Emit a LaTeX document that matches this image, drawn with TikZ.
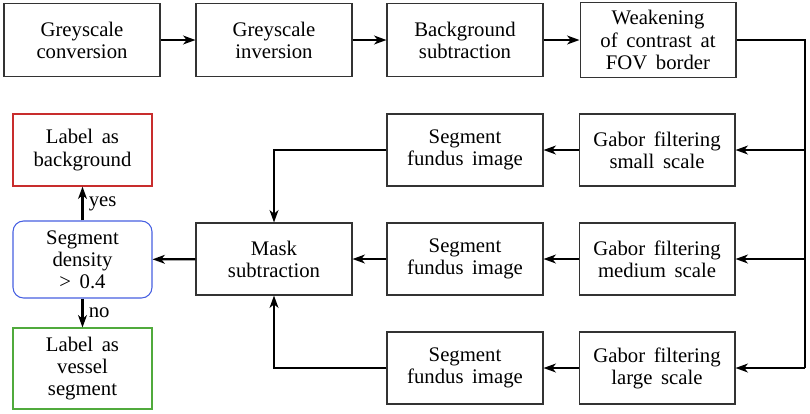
\documentclass[tikz,border=0pt]{standalone}
\usepackage{fontspec}
\setmainfont{Liberation Serif}
\newfontfamily\tms{Liberation Serif}
\usetikzlibrary{arrows.meta}
\definecolor{cred}{RGB}{200,45,45}
\definecolor{cblue}{RGB}{70,95,225}
\definecolor{cgreen}{RGB}{80,170,60}
\tikzset{
  box/.style={draw=black!80, line width=0.6pt, minimum width=3.12cm, minimum height=1.44cm, align=center, inner sep=2pt, font=\tms\fontsize{11.8}{12.6}\selectfont},
  endbox/.style={box, minimum width=2.78cm},
  conn/.style={line width=1.2pt, -{Stealth[length=7pt,width=5pt,inset=2pt]}},
  plain/.style={line width=1.2pt},
  lbl/.style={font=\tms\fontsize{11.8}{12.6}\selectfont, anchor=west, inner sep=2pt}
}
\begin{document}
\begin{tikzpicture}[x=0.02cm,y=-0.02cm]
\useasboundingbox (0,0) rectangle (810,413);
% row 1
\node[box, minimum height=1.46cm] (b1) at (82,40) {Greyscale\\conversion};
\node[box, minimum height=1.46cm] (b2) at (274,40) {Greyscale\\inversion};
\node[box, minimum height=1.46cm] (b3) at (465,40) {Background\\subtraction};
\node[box, minimum height=1.5cm] (b4) at (658,40) {Weakening\\of\, contrast\, at\\FOV\, border};
% gabor column
\node[box] (g1) at (657,150) {Gabor\, filtering\\small\, scale};
\node[box] (g2) at (657,259) {Gabor\, filtering\\medium\, scale};
\node[box] (g3) at (657,368) {Gabor\, filtering\\large\, scale};
% segment column
\node[box] (s1) at (465,150) {Segment\\fundus\, image};
\node[box] (s2) at (465,259) {Segment\\fundus\, image};
\node[box] (s3) at (465,368) {Segment\\fundus\, image};
% mask
\node[box] (m) at (274,259) {Mask\\subtraction};
% decision
\node[endbox, draw=cblue, rounded corners=6pt, minimum height=1.54cm] (d) at (82.5,259.5) {Segment\\density\\>\, 0.4};
\node[endbox, draw=cred] (bg) at (82.5,150) {Label\, as\\background};
\node[endbox, draw=cgreen, minimum height=1.62cm] (vs) at (82.5,368.5) {Label\, as\\vessel\\segment};
\coordinate (r0) at (805,40);
\coordinate (r1) at (805,150);
\coordinate (r2) at (805,259);
\coordinate (r3) at (805,368);
% connectors
\draw[conn] (b1) -- (b2);
\draw[conn] (b2) -- (b3);
\draw[conn] (b3) -- (b4);
\draw[plain] (b4.east) -- (r0) -- (r3);
\draw[conn] (r1) -- (g1);
\draw[conn] (r2) -- (g2);
\draw[conn] (r3) -- (g3);
\draw[conn] (g1) -- (s1);
\draw[conn] (g2) -- (s2);
\draw[conn] (g3) -- (s3);
\draw[conn] (s1.west) -| (m.north);
\draw[conn] (s3.west) -| (m.south);
\draw[conn] (s2) -- (m);
\draw[conn] (m) -- (d);
\draw[conn] (d) -- node[lbl, pos=0.5, xshift=1pt] (yes) {yes} (bg);
\draw[conn] (d) -- node[lbl, pos=0.5, xshift=1pt] (no) {no} (vs);
\end{tikzpicture}
\end{document}
